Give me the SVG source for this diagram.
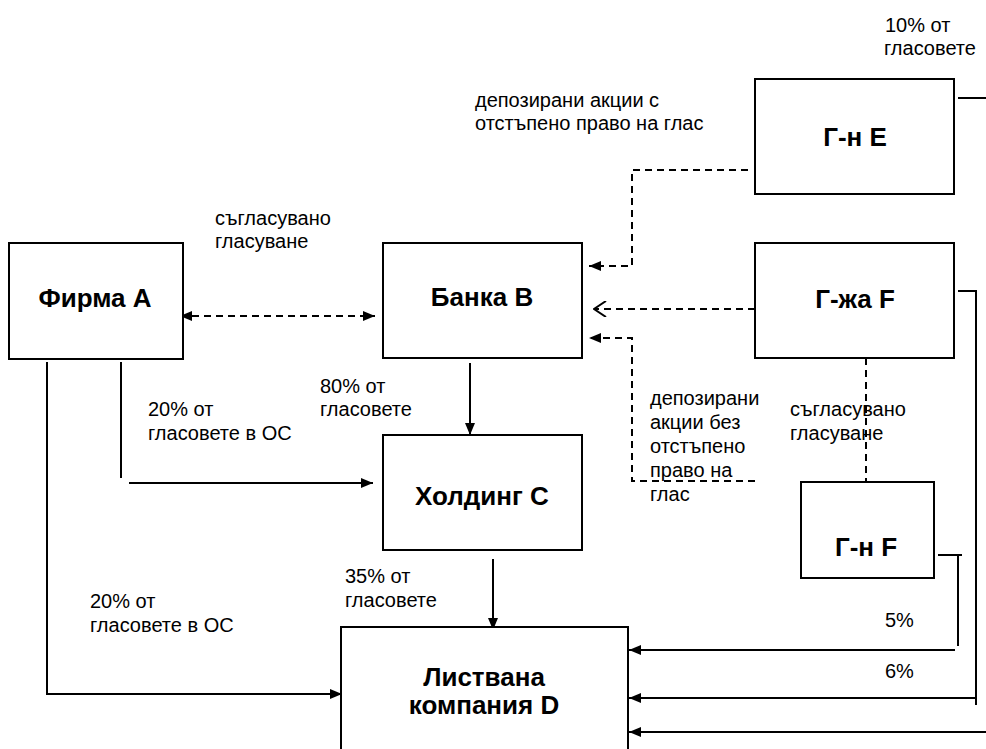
<svg xmlns="http://www.w3.org/2000/svg" width="986" height="749" viewBox="0 0 986 749">
<defs>
<style>
.box{fill:#fff;stroke:#000;stroke-width:2}
.ln{fill:none;stroke:#000;stroke-width:2}
.ds{fill:none;stroke:#000;stroke-width:2;stroke-dasharray:7 5}
.b{font-family:"Liberation Sans",Arial,sans-serif;font-weight:bold;font-size:26px;text-anchor:middle;fill:#000}
.t{font-family:"Liberation Sans",Arial,sans-serif;font-size:20px;fill:#000}
</style>
<marker id="ah" viewBox="0 0 12 10" refX="12" refY="5" markerWidth="12" markerHeight="10" markerUnits="userSpaceOnUse" orient="auto-start-reverse"><path d="M0,0 L12,5 L0,10 Z" fill="#000"/></marker>
<marker id="ao" viewBox="0 0 14 16" refX="13" refY="8" markerWidth="14" markerHeight="16" markerUnits="userSpaceOnUse" orient="auto"><path d="M1,0 L13,8 L1,16" fill="none" stroke="#000" stroke-width="2"/></marker>
</defs>
<rect width="986" height="749" fill="#fff"/>
<g id="connectors">
<path class="ds" d="M180,316 H375" marker-start="url(#ah)" marker-end="url(#ah)"/>
<path class="ds" d="M748,170 H632 V266 H589" marker-end="url(#ah)"/>
<path class="ds" d="M755,309 H594" marker-end="url(#ao)"/>
<path class="ds" d="M755,481 H632 V338 H589" marker-end="url(#ah)"/>
<path class="ds" d="M866,358 V482"/>
<path class="ln" d="M470,363 V435" marker-end="url(#ah)"/>
<path class="ln" d="M121,362 V478"/>
<path class="ln" d="M129,483 H373" marker-end="url(#ah)"/>
<path class="ln" d="M47,362 V694 H342" marker-end="url(#ah)"/>
<path class="ln" d="M493,559 V630" marker-end="url(#ah)"/>
<path class="ln" d="M938,555 H962 M958,555 V646"/>
<path class="ln" d="M955,650 H629" marker-end="url(#ah)"/>
<path class="ln" d="M958,291 H976 V705"/>
<path class="ln" d="M976,698 H629" marker-end="url(#ah)"/>
<path class="ln" d="M958,98 H986"/>
<path class="ln" d="M986,732 H629" marker-end="url(#ah)"/>
</g>
<g id="firmaA"><rect class="box" x="9" y="243" width="174" height="116"/><text class="b" x="95" y="307">Фирма A</text></g>
<g id="bankaB"><rect class="box" x="383" y="243" width="199" height="115"/><text class="b" x="482" y="306">Банка B</text></g>
<g id="holdingC"><rect class="box" x="383" y="435" width="199" height="115"/><text class="b" x="482" y="505">Холдинг C</text></g>
<g id="gnE"><rect class="box" x="755" y="79" width="199" height="115"/><text class="b" x="855" y="146">Г-н E</text></g>
<g id="gzhaF"><rect class="box" x="755" y="243" width="199" height="115"/><text class="b" x="855" y="308">Г-жа F</text></g>
<g id="gnF"><rect class="box" x="801" y="482" width="133" height="96"/><text class="b" x="866" y="556">Г-н F</text></g>
<g id="listvanaD"><rect class="box" x="341" y="627" width="287" height="140"/><text class="b" x="484" y="686">Листвана</text><text class="b" x="484" y="714">компания D</text></g>
<g id="labels">
<text class="t" x="885" y="32">10% от</text><text class="t" x="884" y="55">гласовете</text>
<text class="t" x="475" y="107">депозирани акции с</text><text class="t" x="475" y="130">отстъпено право на глас</text>
<text class="t" x="215" y="225">съгласувано</text><text class="t" x="215" y="248">гласуване</text>
<text class="t" x="320" y="393">80% от</text><text class="t" x="320" y="416">гласовете</text>
<text class="t" x="148" y="416">20% от</text><text class="t" x="148" y="440">гласовете в ОС</text>
<text class="t" x="650" y="405">депозирани</text><text class="t" x="650" y="429">акции без</text><text class="t" x="650" y="453">отстъпено</text><text class="t" x="650" y="477">право на</text><text class="t" x="650" y="501">глас</text>
<text class="t" x="790" y="416">съгласувано</text><text class="t" x="790" y="440">гласуване</text>
<text class="t" x="345" y="583">35% от</text><text class="t" x="345" y="607">гласовете</text>
<text class="t" x="90" y="608">20% от</text><text class="t" x="90" y="632">гласовете в ОС</text>
<text class="t" x="885" y="627">5%</text>
<text class="t" x="885" y="678">6%</text>
</g>
</svg>
